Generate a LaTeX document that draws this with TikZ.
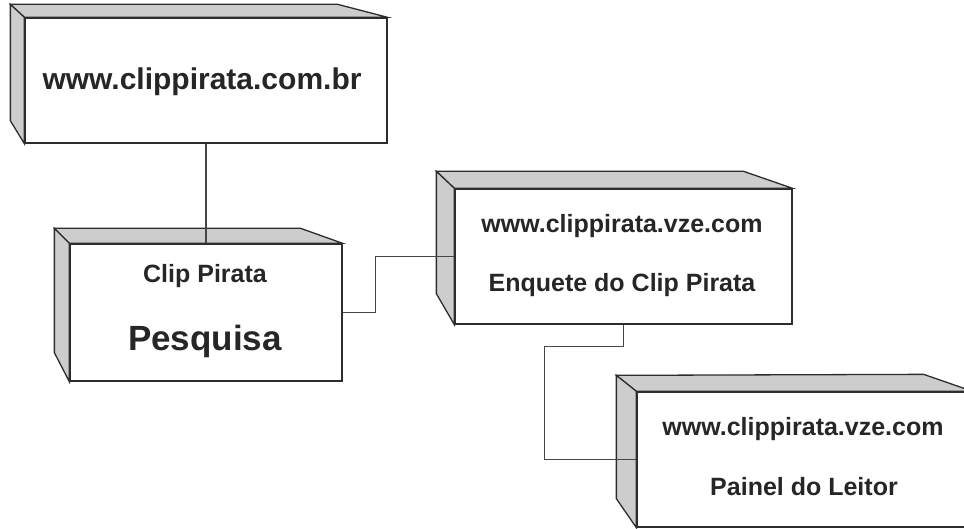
\documentclass[tikz,border=0pt]{standalone}
\usepackage{fontspec}
\setmainfont{Liberation Sans}
\usetikzlibrary{calc}
\definecolor{contorno}{RGB}{45,45,45}
\definecolor{lateral}{RGB}{205,205,205}
\definecolor{ligacao}{RGB}{70,70,70}

\begin{document}
\begin{tikzpicture}[x=1pt, y=-1pt]

    \tikzstyle{frente}=[rectangle, draw=contorno, line width=1.3pt, fill=white, inner sep=0pt];
    \tikzstyle{face}=[draw=contorno, line width=1.3pt, fill=lateral];
    \tikzstyle{fio}=[draw=ligacao, line width=1.1pt];
    \tikzstyle{rotulo}=[anchor=base, text=black!85, inner sep=0pt];

    \clip (0,0) rectangle (964,529);

    % caixas (face da frente)
    \node[frente, minimum width=362pt, minimum height=125pt] (site) at (206,80.5) {};
    \node[frente, minimum width=272pt, minimum height=137pt] (pesq) at (206,312.5) {};
    \node[frente, minimum width=337pt, minimum height=135pt] (enq) at (623.5,256.5) {};
    \node[frente, minimum width=335pt, minimum height=135pt] (painel) at (804.5,459.5) {};

    % faces de cima e do lado
    \filldraw[face] (site.north west) -- ++(-14,-13) -- ($(site.north east)+(-50,-13)$) -- (site.north east) -- cycle;
    \filldraw[face] (site.north west) -- ++(-14,-13) -- ($(site.south west)+(-14,-23)$) -- (site.south west) -- cycle;
    \filldraw[face] (pesq.north west) -- ++(-15,-15) -- ($(pesq.north east)+(-42,-15)$) -- (pesq.north east) -- cycle;
    \filldraw[face] (pesq.north west) -- ++(-15,-15) -- ($(pesq.south west)+(-15,-29)$) -- (pesq.south west) -- cycle;
    \filldraw[face] (enq.north west) -- ++(-18,-17) -- ($(enq.north east)+(-49,-17)$) -- (enq.north east) -- cycle;
    \filldraw[face] (enq.north west) -- ++(-18,-17) -- ($(enq.south west)+(-18,-31)$) -- (enq.south west) -- cycle;
    \filldraw[face] (painel.north west) -- ++(-20,-16) -- ($(painel.north east)+(-49,-17)$) -- (painel.north east) -- cycle;
    \filldraw[face] (painel.north west) -- ++(-20,-16) -- ($(painel.south west)+(-20,-29)$) -- (painel.south west) -- cycle;

    % ligacoes
    \draw[fio] (site.south) -- (pesq.north);
    \draw[fio] (pesq.east) -- ++(33,0) |- (enq.west);
    \draw[fio] (enq.south) -- ++(0,22) -| ([xshift=-92pt]painel.west) -- (painel.west);

    % textos
    \node[rotulo, font=\fontsize{30}{36}\selectfont\bfseries] (t_site) at (202,90) {www.clippirata.com.br};
    \node[rotulo, font=\fontsize{25}{30}\selectfont\bfseries] (t_clip) at (205,283) {Clip Pirata};
    \node[rotulo, font=\fontsize{35}{42}\selectfont\bfseries] (t_pesq) at (205,350) {Pesquisa};
    \node[rotulo, font=\fontsize{25}{30}\selectfont\bfseries] (t_vze1) at (622,233) {www.clippirata.vze.com};
    \node[rotulo, font=\fontsize{25}{30}\selectfont\bfseries] (t_enq) at (622,292) {Enquete do Clip Pirata};
    \node[rotulo, font=\fontsize{25}{30}\selectfont\bfseries] (t_vze2) at (803,435) {www.clippirata.vze.com};
    \node[rotulo, font=\fontsize{25}{30}\selectfont\bfseries] (t_painel) at (804,495) {Painel do Leitor};

\end{tikzpicture}
\end{document}
